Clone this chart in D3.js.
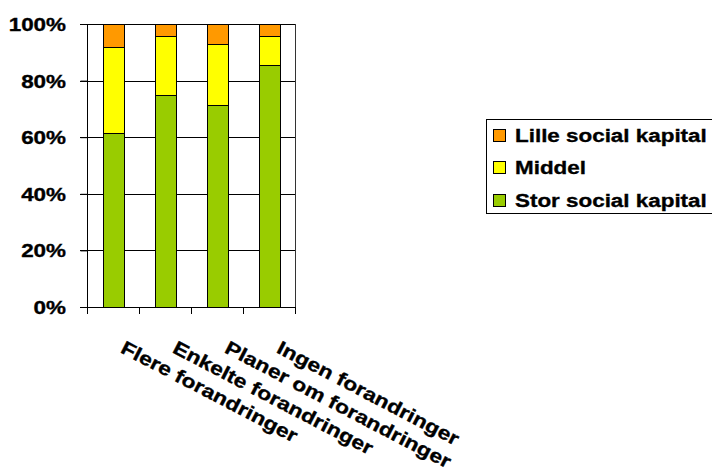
<!DOCTYPE html>
<html>
<head>
<meta charset="utf-8">
<script src="https://cdn.jsdelivr.net/npm/d3@7"></script>
<style>
  html, body { margin: 0; padding: 0; background: #fff; }
  svg { display: block; }
  text { font-family: "Liberation Sans", Arial, sans-serif; font-weight: bold; fill: #000; stroke: #000; stroke-width: 0.35px; }
</style>
</head>
<body>
<svg id="chart" width="712" height="472"></svg>
<script>
// Share of respondents by level of social capital, per type of change
const categories = ["Flere forandringer", "Enkelte forandringer", "Planer om forandringer", "Ingen forandringer"];
const storSocialKapital = [61.6, 74.9, 71.5, 85.4];
const middel = [30.2, 20.9, 21.3, 10.4];
const lilleSocialKapital = [8.2, 4.2, 7.2, 4.2];
const seriesNames = ["Stor social kapital", "Middel", "Lille social kapital"];
const seriesColors = ["#99CC00", "#FFFF00", "#FF9900"];
const yTicks = [0, 20, 40, 60, 80, 100];
const yTickLabels = ["0%", "20%", "40%", "60%", "80%", "100%"];

const svg = d3.select("#chart");
const plot = { left: 87, right: 295, top: 24, bottom: 307 };
const stretch = 1.18;   // wide glyphs
const fontSize = 19;

const x = d3.scaleBand().domain(categories).range([plot.left, plot.right]).padding(0);
const y = d3.scaleLinear().domain([0, 100]).range([plot.bottom, plot.top]);
const barW = x.bandwidth() / 2.5;

// stacked data
const rows = categories.map((c, i) => ({
  cat: c,
  "Stor social kapital": storSocialKapital[i],
  "Middel": middel[i],
  "Lille social kapital": lilleSocialKapital[i]
}));
const stacked = d3.stack().keys(seriesNames)(rows);

// gridlines
svg.append("g").selectAll("line").data(yTicks).join("line")
  .attr("x1", plot.left - 7).attr("x2", plot.right)
  .attr("y1", d => Math.round(y(d)) + 0.5).attr("y2", d => Math.round(y(d)) + 0.5)
  .attr("stroke", "#000").attr("stroke-width", 1);

// right border of plot area
svg.append("line")
  .attr("x1", plot.right + 0.5).attr("x2", plot.right + 0.5)
  .attr("y1", plot.top).attr("y2", plot.bottom + 7)
  .attr("stroke", "#333").attr("stroke-width", 1);

// bars
svg.append("g").selectAll("g").data(stacked).join("g")
  .attr("fill", (d, i) => seriesColors[i])
  .selectAll("rect").data(d => d).join("rect")
  .attr("x", d => Math.round(x(d.data.cat) + (x.bandwidth() - barW) / 2) + 0.5)
  .attr("width", Math.round(barW))
  .attr("y", d => Math.round(y(d[1])) + 0.5)
  .attr("height", d => Math.round(y(d[0])) - Math.round(y(d[1])))
  .attr("stroke", "#000").attr("stroke-width", 1);

// y axis
const yAxis = svg.append("g").attr("transform", `translate(${plot.left + 0.5},0)`)
  .call(d3.axisLeft(y).tickValues(yTicks).tickSize(7).tickFormat((d, i) => yTickLabels[i]));
yAxis.select(".domain").attr("stroke", "#000").attr("d", `M0,${plot.top}V${plot.bottom}`);
yAxis.selectAll(".tick line").attr("stroke", "#000");
yAxis.selectAll(".tick text").remove();
svg.append("g").selectAll("text").data(yTicks).join("text")
  .attr("transform", d => `translate(66,${y(d) + 7}) scale(${stretch},1)`)
  .attr("text-anchor", "end")
  .attr("font-size", fontSize)
  .text((d, i) => yTickLabels[i]);

// x axis with ticks at category boundaries
const xAxisG = svg.append("g");
xAxisG.append("line")
  .attr("x1", plot.left).attr("x2", plot.right + 1)
  .attr("y1", plot.bottom + 0.5).attr("y2", plot.bottom + 0.5)
  .attr("stroke", "#000");
const bounds = categories.map(c => x(c)).concat([plot.right]);
xAxisG.selectAll("line.tk").data(bounds).join("line").attr("class", "tk")
  .attr("x1", d => Math.round(d) + 0.5).attr("x2", d => Math.round(d) + 0.5)
  .attr("y1", plot.bottom).attr("y2", plot.bottom + 7)
  .attr("stroke", "#000");

// rotated category labels
svg.append("g").selectAll("text").data(categories).join("text")
  .attr("transform", d => `translate(${x(d) + x.bandwidth() / 2 + 6.5},352) rotate(27.6) scale(1.2,1)`)
  .attr("font-size", fontSize)
  .text(d => d);

// legend
const legend = svg.append("g");
legend.append("rect")
  .attr("x", 486.5).attr("y", 119.5).attr("width", 240).attr("height", 94)
  .attr("fill", "#fff").attr("stroke", "#000");
const legendOrder = [2, 1, 0];
legendOrder.forEach((si, row) => {
  const base = 141.5 + row * 32.7;
  legend.append("rect")
    .attr("x", 493.5).attr("y", Math.round(base - 13) + 0.5)
    .attr("width", 12).attr("height", 12)
    .attr("fill", seriesColors[si]).attr("stroke", "#000");
  legend.append("text")
    .attr("transform", `translate(515,${base}) scale(${stretch},1)`)
    .attr("font-size", fontSize)
    .text(seriesNames[si]);
});
</script>
</body>
</html>
